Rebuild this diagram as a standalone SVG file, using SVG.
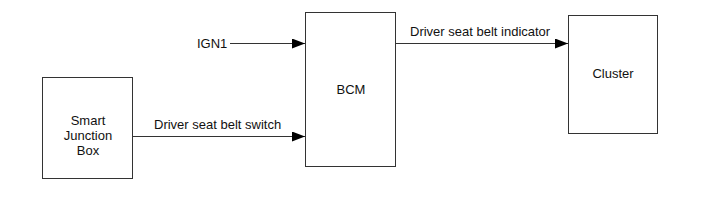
<svg xmlns="http://www.w3.org/2000/svg" width="701" height="207" viewBox="0 0 701 207">
<defs>
<style>
.box{fill:#fff;stroke:#333;stroke-width:1}
.t{font-family:"Liberation Sans",Arial,sans-serif;font-size:13px;fill:#111}
.c{text-anchor:middle}
.ln{stroke:#333;stroke-width:1;fill:none}
</style>
<marker id="ah" markerWidth="13" markerHeight="10" refX="13" refY="5" orient="auto" markerUnits="userSpaceOnUse">
<path d="M0,0 L13,5 L0,10 Z" fill="#000"/>
</marker>
</defs>
<rect width="701" height="207" fill="#fff"/>
<g id="sjb">
<rect class="box" x="42.5" y="77.5" width="90" height="101"/>
<text class="t c" x="88" y="125">Smart</text>
<text class="t c" x="88" y="140">Junction</text>
<text class="t c" x="88" y="155">Box</text>
</g>
<g id="bcm">
<rect class="box" x="305.5" y="12.5" width="90" height="154"/>
<text class="t c" x="351" y="94">BCM</text>
</g>
<g id="cluster">
<rect class="box" x="568.5" y="15.5" width="89" height="118"/>
<text class="t c" x="613" y="78">Cluster</text>
</g>
<g id="connectors">
<line class="ln" x1="230" y1="43.5" x2="305" y2="43.5" marker-end="url(#ah)"/>
<text class="t" x="197" y="47.5">IGN1</text>
<line class="ln" x1="133" y1="136.5" x2="305" y2="136.5" marker-end="url(#ah)"/>
<text class="t" x="154" y="128.5">Driver seat belt switch</text>
<line class="ln" x1="396" y1="43.5" x2="568" y2="43.5" marker-end="url(#ah)"/>
<text class="t" x="410" y="35.5">Driver seat belt indicator</text>
</g>
</svg>
